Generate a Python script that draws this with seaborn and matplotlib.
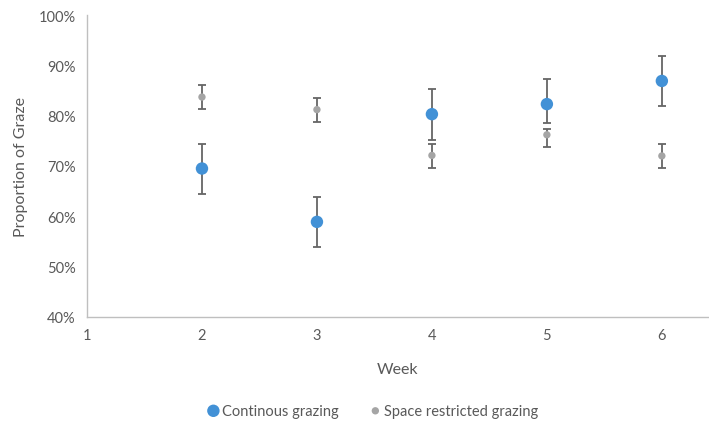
import matplotlib
matplotlib.use("Agg")
import matplotlib.pyplot as plt
import matplotlib.ticker as mticker
import pandas as pd
import seaborn as sns

# values (proportions)
weeks = [2, 3, 4, 5, 6]
continuous = [0.695, 0.589, 0.803, 0.823, 0.869]
cont_upper = [0.744, 0.639, 0.852, 0.873, 0.919]
cont_lower = [0.645, 0.539, 0.752, 0.785, 0.8185]
restricted = [0.837, 0.812, 0.721, 0.762, 0.720]
restr_upper = [0.860, 0.835, 0.744, 0.773, 0.744]
restr_lower = [0.8125, 0.788, 0.697, 0.738, 0.6965]

series_names = ["Continous grazing", "Space restricted grazing"]

cont_df = pd.DataFrame({"week": weeks, "value": continuous,
                        "upper": cont_upper, "lower": cont_lower})
restr_df = pd.DataFrame({"week": weeks, "value": restricted,
                         "upper": restr_upper, "lower": restr_lower})

sns.set_style("white")
plt.rcParams["font.family"] = ["Lato", "DejaVu Sans"]

text_col = "#595959"
blue = "#4291D6"
grey = "#A5A5A5"
err_col = "#666666"

fig = plt.figure(figsize=(7.09, 4.27), dpi=100)
ax = fig.add_axes([0.1227, 0.2553, 0.8773, 0.7072])

for df in (cont_df, restr_df):
    ax.errorbar(df["week"], df["value"],
                yerr=[df["value"] - df["lower"], df["upper"] - df["value"]],
                fmt="none", ecolor=err_col, elinewidth=1.3, capsize=3.2,
                capthick=1.3, zorder=2)

sns.scatterplot(data=cont_df, x="week", y="value", ax=ax, color=blue,
                s=80, edgecolor="none", label=series_names[0], zorder=3)
sns.scatterplot(data=restr_df, x="week", y="value", ax=ax, color=grey,
                s=28, edgecolor="none", label=series_names[1], zorder=3)

ax.set_xlim(1, 6.41)
ax.set_ylim(0.4, 1.0)
ax.set_xticks([1, 2, 3, 4, 5, 6])
ax.set_yticks([0.4, 0.5, 0.6, 0.7, 0.8, 0.9, 1.0])
ax.yaxis.set_major_formatter(mticker.PercentFormatter(1.0, decimals=0))
ax.tick_params(length=0, labelsize=10.5, colors=text_col, pad=8)

for side in ("top", "right"):
    ax.spines[side].set_visible(False)
for side in ("left", "bottom"):
    ax.spines[side].set_color("#BFBFBF")
    ax.spines[side].set_linewidth(1.0)

ax.set_xlabel("Week", fontsize=11.5, color=text_col, labelpad=14)
ax.set_ylabel("Proportion of Graze", fontsize=11.5, color=text_col, labelpad=8)

handles, labels = ax.get_legend_handles_labels()
ax.get_legend().remove()
fig.legend(handles, labels, loc="center", bbox_to_anchor=(0.525, 0.036),
           ncol=2, frameon=False, fontsize=10.5, labelcolor=text_col,
           handletextpad=0.1, columnspacing=2.0, handlelength=1.0)

fig.savefig("out.png", dpi=100)
